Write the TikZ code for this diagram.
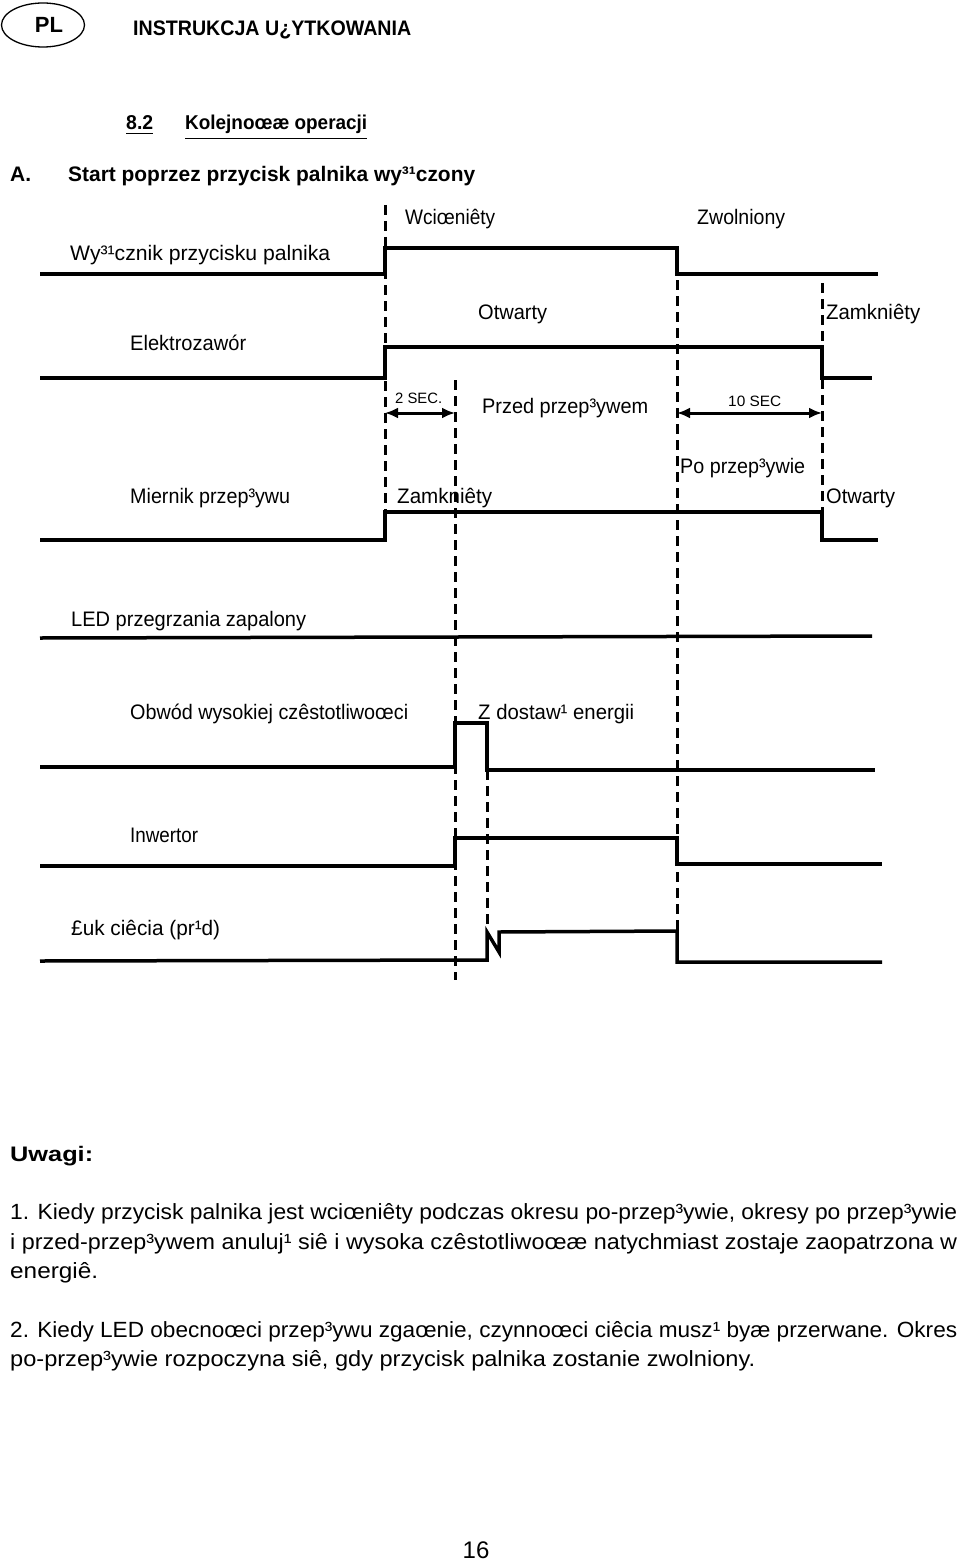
\documentclass[tikz,border=0pt]{standalone}
\usepackage{fontspec}
\setmainfont{Liberation Sans}
\usetikzlibrary{arrows.meta,shapes.geometric}
\newcommand\fw[2]{\resizebox{#1pt}{\height}{#2}}
\begin{document}
\begin{tikzpicture}[x=1pt,y=-1pt,
  wave/.style={line width=3.5pt, line join=miter},
  guide/.style={line width=3pt, dash pattern=on 10pt off 6pt},
  lbl/.style={anchor=base west, inner sep=0pt, font=\fontsize{21}{25}\selectfont},
  small/.style={anchor=base west, inner sep=0pt, font=\fontsize{15}{18}\selectfont},
  note/.style={anchor=base west, inner sep=0pt, font=\fontsize{22}{26}\selectfont},
  head/.style={anchor=base west, inner sep=0pt, font=\bfseries\fontsize{20}{24}\selectfont},
  dim/.style={line width=3pt, {Latex[length=13pt,width=11pt]}-{Latex[length=13pt,width=11pt]}}]
\useasboundingbox[fill=white] (0,0) rectangle (960,1562);

% header
\node[draw, line width=1.3pt, ellipse, minimum width=83pt, minimum height=44pt, inner sep=0pt] (pl) at (43,25) {};
\node[anchor=base, inner sep=0pt, font=\bfseries\fontsize{22}{26}\selectfont] (pltxt) at (49,33) {PL};
\node[head, font=\bfseries\fontsize{21}{25}\selectfont] (title) at (133,36) {\fw{278}{INSTRUKCJA U¿YTKOWANIA}};
\node[head, font=\bfseries\fontsize{20}{24}\selectfont] (sec) at (126,130) {\fw{27}{8.2}};
\node[head, font=\bfseries\fontsize{20}{24}\selectfont] (sectitle) at (185,130) {\fw{182}{Kolejnoœæ operacji}};
\draw[line width=1.5pt] (sec.south west) ++(0,3) coordinate (u1) -- (u1 -| sec.south east);
\draw[line width=1.5pt] (sectitle.south west) ++(0,4) coordinate (u2) -- (u2 -| sectitle.south east);
\node[head, font=\bfseries\fontsize{21}{25}\selectfont] (A) at (10,182) {A.};
\node[head, font=\bfseries\fontsize{21}{25}\selectfont] (Atitle) at (68,182) {\fw{407}{Start poprzez przycisk palnika wy³¹czony}};

% guide lines (dashed)
\coordinate (g1t) at (385,205); \coordinate (g1b) at (385,540);
\coordinate (g2t) at (455,380); \coordinate (g2b) at (455,980);
\coordinate (g3t) at (487,770); \coordinate (g3b) at (487,930);
\coordinate (g4t) at (677,280); \coordinate (g4b) at (677,930);
\coordinate (g5t) at (822,283); \coordinate (g5b) at (822,540);
\draw[guide] (g1t) -- (g1b);
\draw[guide] (g2t) -- (g2b);
\draw[guide] (g3t) -- (g3b);
\draw[guide] (g4t) -- (g4b);
\draw[guide] (g5t) -- (g5b);

% row 1: torch button switch
\node[lbl] (wc) at (405,225) {\fw{90}{Wciœniêty}};
\node[lbl] (zw) at (697,225) {\fw{88}{Zwolniony}};
\node[lbl] (r1) at (70,260) {\fw{260}{Wy³¹cznik przycisku palnika}};
\draw[wave] (40,274) -- (385,274) -- (385,248) -- (677,248) -- (677,274) -- (878,274);

% row 2: solenoid valve
\node[lbl] (ot1) at (478,319) {\fw{69}{Otwarty}};
\node[lbl] (za1) at (826,319) {\fw{94}{Zamkniêty}};
\node[lbl] (r2) at (130,350) {\fw{116}{Elektrozawór}};
\draw[wave] (40,378) -- (385,378) -- (385,347) -- (822,347) -- (822,378) -- (872,378);

% row 3: flow meter
\node[small] (s2) at (395,403) {\fw{47}{2 SEC.}};
\draw[dim] (g1t |- 0,413) -- (g2t |- 0,413);
\node[lbl] (pre) at (482,413) {\fw{166}{Przed przep³ywem}};
\node[small] (s10) at (728,406) {\fw{53}{10 SEC}};
\draw[dim] (g4t |- 0,413) -- (g5t |- 0,413);
\node[lbl] (post) at (680,473) {\fw{125}{Po przep³ywie}};
\node[lbl] (r3) at (130,503) {\fw{160}{Miernik przep³ywu}};
\node[lbl] (za2) at (397,503) {\fw{95}{Zamkniêty}};
\node[lbl] (ot2) at (826,503) {\fw{69}{Otwarty}};
\draw[wave] (40,540) -- (385,540) -- (385,512) -- (822,512) -- (822,540) -- (878,540);

% row 4: LED
\node[lbl] (r4) at (71,626) {\fw{235}{LED przegrzania zapalony}};
\draw[wave] (40,638) -- (872,636);

% row 5: HF circuit
\node[lbl] (r5) at (130,719) {\fw{278}{Obwód wysokiej czêstotliwoœci}};
\node[lbl] (hf) at (478,719) {\fw{156}{Z dostaw¹ energii}};
\draw[wave] (40,767) -- (455,767) -- (455,723) -- (487,723) -- (487,770) -- (875,770);

% row 6: inverter
\node[lbl] (r6) at (130,842) {\fw{68}{Inwertor}};
\draw[wave] (40,866) -- (455,866) -- (455,838) -- (677,838) -- (677,864) -- (882,864);

% row 7: arc current
\node[lbl] (r7) at (71,935) {\fw{149}{£uk ciêcia (pr¹d)}};
\draw[wave] (40,961) -- (487,960) -- (487,932) -- (499,952) -- (499,932) -- (677,931) -- (677,962) -- (882,962);

% notes
\node[head, font=\bfseries\fontsize{21}{25}\selectfont] (uw) at (10,1161) {\fw{83}{Uwagi:}};
\node[note] (n1) at (10,1219) {\fw{947}{1. Kiedy przycisk palnika jest wciœniêty podczas okresu po-przep³ywie, okresy po przep³ywie}};
\node[note] (n2) at (10,1249) {\fw{947}{i przed-przep³ywem anuluj¹ siê i wysoka czêstotliwoœæ natychmiast zostaje zaopatrzona w}};
\node[note] (n3) at (10,1278) {\fw{88}{energiê.}};
\node[note] (n4) at (10,1337) {\fw{947}{2. Kiedy LED obecnoœci przep³ywu zgaœnie, czynnoœci ciêcia musz¹ byæ przerwane. Okres}};
\node[note] (n5) at (10,1366) {\fw{745}{po-przep³ywie rozpoczyna siê, gdy przycisk palnika zostanie zwolniony.}};

\node[anchor=base, inner sep=0pt, font=\fontsize{24}{28}\selectfont] (pg) at (476,1558) {16};
\end{tikzpicture}
\end{document}
